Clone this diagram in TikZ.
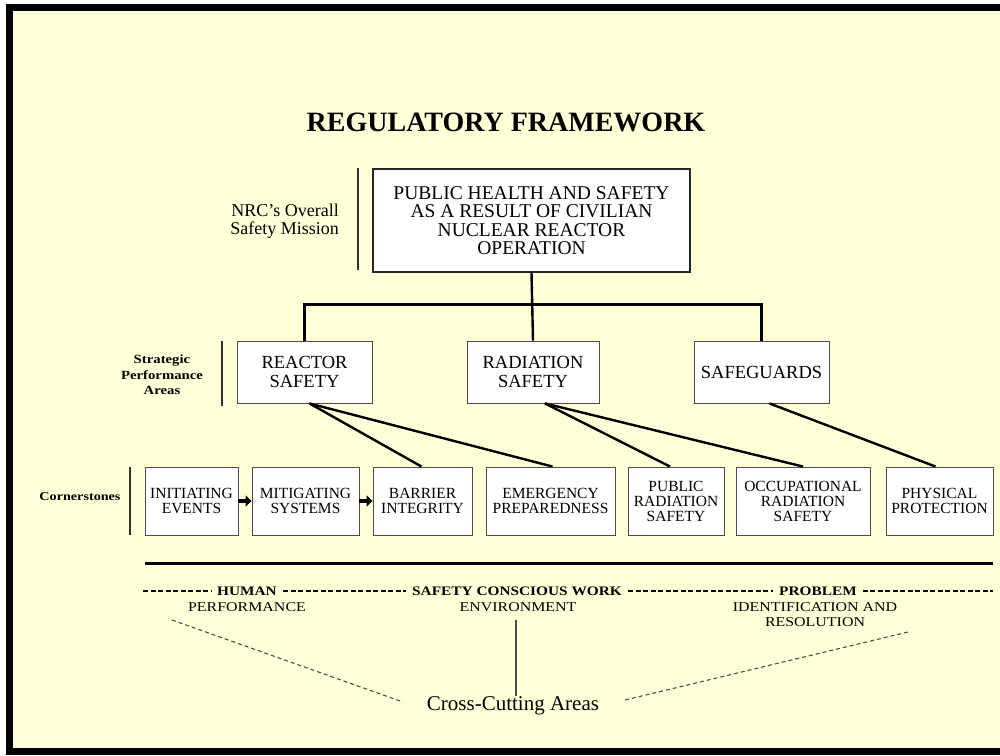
\documentclass[tikz,border=0pt]{standalone}
\usepackage{fontspec}
\setmainfont{Liberation Serif}
\newfontfamily\widefont[FakeStretch=1.18]{Liberation Serif}
\usetikzlibrary{arrows.meta}
\definecolor{paper}{RGB}{255,255,216}
\newcommand{\fsz}[2]{\fontsize{#1}{#2}\selectfont}
\begin{document}
\begin{tikzpicture}[x=1pt,y=-1pt,
  box/.style={draw=black!70, fill=white, line width=0.9pt, inner sep=0pt, align=center},
  topbox/.style={box, draw=black!85, line width=1.3pt, minimum width=317pt, minimum height=103pt, font=\fsz{19.5}{18.5}},
  spabox/.style={box, minimum height=62pt, font=\fsz{18.5}{19.5}},
  cbox/.style={box, minimum height=68pt, font=\fsz{15.5}{15}},
  conn/.style={line width=2.4pt, black},
  bar/.style={line width=2.6pt, black!80},
  blockarrow/.style={line width=4.5pt, -{Triangle[length=6pt,width=11pt]}},
  ccone/.style={font=\widefont\bfseries\fsz{13}{14}, inner sep=6pt},
  cctwo/.style={font=\widefont\fsz{13.5}{15}, inner sep=0pt, align=center},
  rowdash/.style={line width=1.6pt, dash pattern=on 5pt off 2.5pt},
  convdash/.style={line width=1.1pt, black!70, dash pattern=on 4pt off 3pt},
  sidelabel/.style={align=center, inner sep=0pt}
]
\useasboundingbox (0,0) rectangle (1000,755);
\fill[white] (0,0) rectangle (1000,755);
\begin{scope}
  \clip (0,0) rectangle (1000,755);
  \filldraw[fill=paper, draw=black, line width=7pt] (9.5,7.5) rectangle (1010,751.5);
\end{scope}

% title
\node[font=\bfseries\fsz{28}{30}, inner sep=0pt, anchor=base] (title) at (506,131) {REGULATORY FRAMEWORK};

% mission
\node[topbox] (top) at (531.5,220.5) {PUBLIC HEALTH AND SAFETY\\AS A RESULT OF CIVILIAN\\NUCLEAR REACTOR\\OPERATION};
\node[sidelabel, align=right, anchor=east, font=\fsz{18}{17.5}] (nrc) at (339,221) {NRC’s Overall\\Safety Mission};
\draw[bar] (358,168) -- (358,270);

% strategic performance areas
\node[spabox, minimum width=135pt] (rs) at (304.5,372) {REACTOR\\SAFETY};
\node[spabox, minimum width=132pt] (rad) at (533,372) {RADIATION\\SAFETY};
\node[spabox, minimum width=135pt] (sg) at (761.5,372) {SAFEGUARDS};
\node[sidelabel, font=\widefont\bfseries\fsz{12.5}{15.5}] (spa) at (162,375) {Strategic\\Performance\\Areas};
\draw[bar] (222,341) -- (222,406);

\draw[conn] (top.south) -- (rad.north);
\draw[conn] (rs.north) -- ++(0,-36) -| (sg.north);

% cornerstones
\node[cbox, minimum width=93pt] (c1) at (191.5,501) {INITIATING\\EVENTS};
\node[cbox, minimum width=107pt] (c2) at (305.5,501) {MITIGATING\\SYSTEMS};
\node[cbox, minimum width=99pt] (c3) at (422.5,501) {BARRIER\\INTEGRITY};
\node[cbox, minimum width=129pt] (c4) at (550.5,501) {EMERGENCY\\PREPAREDNESS};
\node[cbox, minimum width=96pt] (c5) at (676,501) {PUBLIC\\RADIATION\\SAFETY};
\node[cbox, minimum width=134pt] (c6) at (803,501) {OCCUPATIONAL\\RADIATION\\SAFETY};
\node[cbox, minimum width=107pt] (c7) at (939.5,501) {PHYSICAL\\PROTECTION};
\node[sidelabel, font=\widefont\bfseries\fsz{12}{14}] (corn) at (80,497) {Cornerstones};
\draw[bar] (130,467) -- (130,535);

\draw[blockarrow] (c1.east) -- (c2.west);
\draw[blockarrow] (c2.east) -- (c3.west);

\draw[conn] ([xshift=5pt]rs.south) -- ([xshift=-1pt]c3.north);
\draw[conn] ([xshift=5pt]rs.south) -- ([xshift=2pt]c4.north);
\draw[conn] ([xshift=12pt]rad.south) -- ([xshift=-6pt]c5.north);
\draw[conn] ([xshift=12pt]rad.south) -- (c6.north);
\draw[conn] ([xshift=8pt]sg.south) -- ([xshift=-4pt]c7.north);

% separator
\draw[line width=3pt] (145,563) -- (993,563);

% cross-cutting areas
\node[ccone] (hum) at (247,591) {HUMAN};
\node[ccone] (scw) at (517,591) {SAFETY CONSCIOUS WORK};
\node[ccone] (prob) at (818,591) {PROBLEM};
\node[cctwo] (perf) at (247,607) {PERFORMANCE};
\node[cctwo] (env) at (518,607) {ENVIRONMENT};
\node[cctwo] (ident) at (815,614.5) {IDENTIFICATION AND\\RESOLUTION};
\coordinate (rowL) at (143,591);
\coordinate (rowR) at (993,591);
\draw[rowdash] (rowL) -- (hum.west);
\draw[rowdash] (hum.east) -- (scw.west);
\draw[rowdash] (scw.east) -- (prob.west);
\draw[rowdash] (prob.east) -- (rowR);

\node[font=\fsz{21}{22}, inner sep=0pt, anchor=base] (cca) at (513,710) {Cross-Cutting Areas};
\coordinate (hpL) at (172,620);
\coordinate (ccL) at (403,702);
\coordinate (piR) at (908,632);
\coordinate (ccR) at (625,700);
\coordinate (envB) at (516,620);
\draw[convdash] (hpL) -- (ccL);
\draw[convdash] (piR) -- (ccR);
\draw[line width=1.1pt, black!70] (envB) -- (envB |- cca.north);
\end{tikzpicture}
\end{document}
